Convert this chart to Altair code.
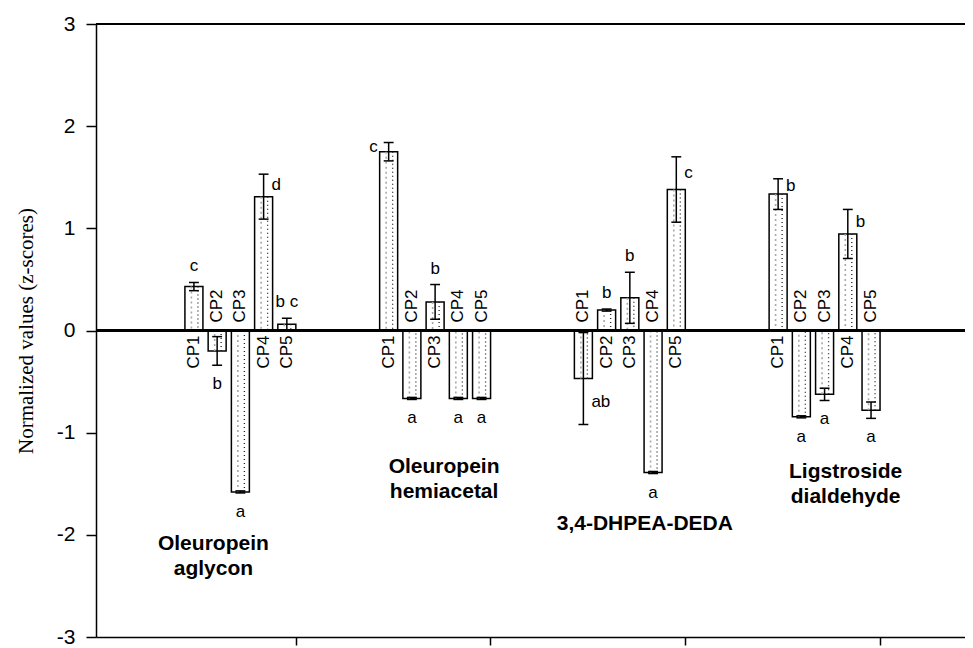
import altair as alt
import pandas as pd

# ---------------- data ----------------
GROUPS = ["Oleuropein aglycon", "Oleuropein hemiacetal", "3,4-DHPEA-DEDA", "Ligstroside dialdehyde"]
GROUP_LABELS = ["Oleuropein\naglycon", "Oleuropein\nhemiacetal", "3,4-DHPEA-DEDA", "Ligstroside\ndialdehyde"]
CPS = ["CP1", "CP2", "CP3", "CP4", "CP5"]

MEAN_G1 = [0.43, -0.20, -1.58, 1.31, 0.06]
MEAN_G2 = [1.75, -0.665, 0.28, -0.665, -0.665]
MEAN_G3 = [-0.47, 0.20, 0.32, -1.39, 1.38]
MEAN_G4 = [1.335, -0.845, -0.625, 0.945, -0.78]

ERR_G1 = [0.04, 0.14, 0.01, 0.22, 0.06]
ERR_G2 = [0.09, 0.01, 0.17, 0.01, 0.01]
ERR_G3 = [0.45, 0.01, 0.25, 0.01, 0.32]
ERR_G4 = [0.15, 0.01, 0.06, 0.24, 0.08]

LET_G1 = ["c", "b", "a", "d", "b c"]
LET_G2 = ["c", "a", "b", "a", "a"]
LET_G3 = ["ab", "b", "b", "a", "c"]
LET_G4 = ["b", "a", "a", "b", "a"]

# ---------------- layout (styling only) ----------------
SIDE_G1 = ["top", "bottom", "bottom", "right", "top"]
SIDE_G2 = ["left", "bottom", "top", "bottom", "bottom"]
SIDE_G3 = ["right", "top", "top", "bottom", "right"]
SIDE_G4 = ["right", "bottom", "bottom", "right", "bottom"]
GROUP_NUDGE = [(-27, 57), (9, 74), (15, 56), (21, 60)]  # px (dx, dy) for group titles

UNIT_PX = 197.0
FIRST_PX = 94.0
STEP_PX = 23.5
BAR_PX = 18
CAP_HALF_PX = 5.0
PLOT_W = 869
PLOT_H = 613
X_MAX = PLOT_W / UNIT_PX

MEANS = [MEAN_G1, MEAN_G2, MEAN_G3, MEAN_G4]
ERRS = [ERR_G1, ERR_G2, ERR_G3, ERR_G4]
LETS = [LET_G1, LET_G2, LET_G3, LET_G4]
SIDES = [SIDE_G1, SIDE_G2, SIDE_G3, SIDE_G4]

rows = []
for g, gname in enumerate(GROUPS):
    for k, cp in enumerate(CPS):
        m = MEANS[g][k]
        e = ERRS[g][k]
        x = g + (FIRST_PX + STEP_PX * k) / UNIT_PX
        rows.append({
            "group": gname, "gi": g, "cp": cp, "mean": m, "err": e,
            "lo": m - e, "hi": m + e,
            "mid": m + (e / 2 if m >= 0 else -e / 2),
            "xpos": x,
            "capl": x - CAP_HALF_PX / UNIT_PX, "capr": x + CAP_HALF_PX / UNIT_PX,
            "letter": LETS[g][k], "side": SIDES[g][k],
        })
df = pd.DataFrame(rows)

grp = df.groupby("gi").agg(xc=("xpos", "mean"), ymin=("lo", "min")).reset_index()
grp["label"] = [GROUP_LABELS[i] for i in grp["gi"]]

FONT = "Liberation Sans"

xscale = alt.Scale(domain=[0, X_MAX], nice=False, zero=False)
yscale = alt.Scale(domain=[-3, 3], nice=False, zero=False)

xaxis = alt.Axis(values=[1, 2, 3, 4], labels=False, tickSize=8, tickWidth=1.5,
                 tickColor="black", domainColor="black", domainWidth=1.5,
                 grid=False, title=None)
yaxis = alt.Axis(values=[-3, -2, -1, 0, 1, 2, 3], tickSize=10, tickWidth=1.5,
                 tickColor="black", domainColor="black", domainWidth=1.5,
                 grid=False, labelFont=FONT, labelFontSize=21, labelColor="black",
                 labelPadding=11, labelExpr="'' + datum.value",
                 title="Normalized values (z-scores)", titleFont="Liberation Serif",
                 titleFontSize=21, titleFontWeight="normal", titleColor="black",
                 titleAngle=270, titleAlign="center", titleBaseline="middle",
                 titleX=-70, titleY=PLOT_H / 2)

base = alt.Chart(df)
X = alt.X("xpos:Q", scale=xscale, axis=xaxis)

bars = base.mark_bar(width=BAR_PX, fill="white", stroke="black", strokeWidth=1.5).encode(
    x=X, y=alt.Y("mean:Q", scale=yscale, axis=yaxis), y2=alt.datum(0))

dots_gray = base.mark_rule(xOffset=-2.5, strokeDash=[2, 3], color="#a8a8a8", strokeWidth=1.6).encode(
    x="xpos:Q", y="mean:Q", y2=alt.datum(0))
dots_black = base.mark_rule(xOffset=4, strokeDash=[1, 3], color="#222222", strokeWidth=1.3).encode(
    x="xpos:Q", y="mean:Q", y2=alt.datum(0))

zero_line = alt.Chart(df).mark_rule(color="black", strokeWidth=1.5).encode(y=alt.datum(0))
top_line = alt.Chart(df).mark_rule(color="black", strokeWidth=1.5).encode(y=alt.datum(3))

err_v = base.mark_rule(color="black", strokeWidth=1.5).encode(x="xpos:Q", y="lo:Q", y2="hi:Q")
cap_hi = base.mark_rule(color="black", strokeWidth=1.5).encode(x="capl:Q", x2="capr:Q", y="hi:Q")
cap_lo = base.mark_rule(color="black", strokeWidth=1.5).encode(x="capl:Q", x2="capr:Q", y="lo:Q")

cp_above = base.transform_filter("datum.mean < 0").mark_text(
    angle=270, align="left", baseline="middle", dx=8, font=FONT, fontSize=17, color="black").encode(
    x="xpos:Q", y=alt.datum(0), text="cp:N")
cp_below = base.transform_filter("datum.mean >= 0").mark_text(
    angle=270, align="right", baseline="middle", dx=-5, font=FONT, fontSize=17, color="black").encode(
    x="xpos:Q", y=alt.datum(0), text="cp:N")

let_top = base.transform_filter("datum.side == 'top'").mark_text(
    align="center", baseline="middle", dy=-16, font=FONT, fontSize=17, color="black").encode(
    x="xpos:Q", y="hi:Q", text="letter:N")
let_bottom = base.transform_filter("datum.side == 'bottom'").mark_text(
    align="center", baseline="middle", dy=19, font=FONT, fontSize=17, color="black").encode(
    x="xpos:Q", y="lo:Q", text="letter:N")
let_right = base.transform_filter("datum.side == 'right'").mark_text(
    align="left", baseline="middle", dx=8, font=FONT, fontSize=17, color="black").encode(
    x="xpos:Q", y="mid:Q", text="letter:N")
let_left = base.transform_filter("datum.side == 'left'").mark_text(
    align="right", baseline="middle", dx=-11, font=FONT, fontSize=17, color="black").encode(
    x="xpos:Q", y="mid:Q", text="letter:N")

glabels = []
for i, (ddx, ddy) in enumerate(GROUP_NUDGE):
    glabels.append(
        alt.Chart(grp).transform_filter(f"datum.gi == {i}").mark_text(
            align="center", baseline="alphabetic", dx=ddx, dy=ddy, lineBreak="\n",
            lineHeight=25, font=FONT, fontSize=21, fontWeight="bold", color="black").encode(
            x="xc:Q", y="ymin:Q", text="label:N"))

chart = alt.layer(
    bars, dots_gray, dots_black, zero_line, top_line, err_v, cap_hi, cap_lo,
    cp_above, cp_below, let_top, let_bottom, let_right, let_left, *glabels
).properties(
    width=PLOT_W, height=PLOT_H,
    padding={"left": 88, "top": 16, "right": 0, "bottom": 10},
    autosize=alt.AutoSizeParams(type="none"),
).configure_view(stroke=None).configure(background="white")

chart.save("out.html", embed_options={"renderer": "svg", "actions": False})
